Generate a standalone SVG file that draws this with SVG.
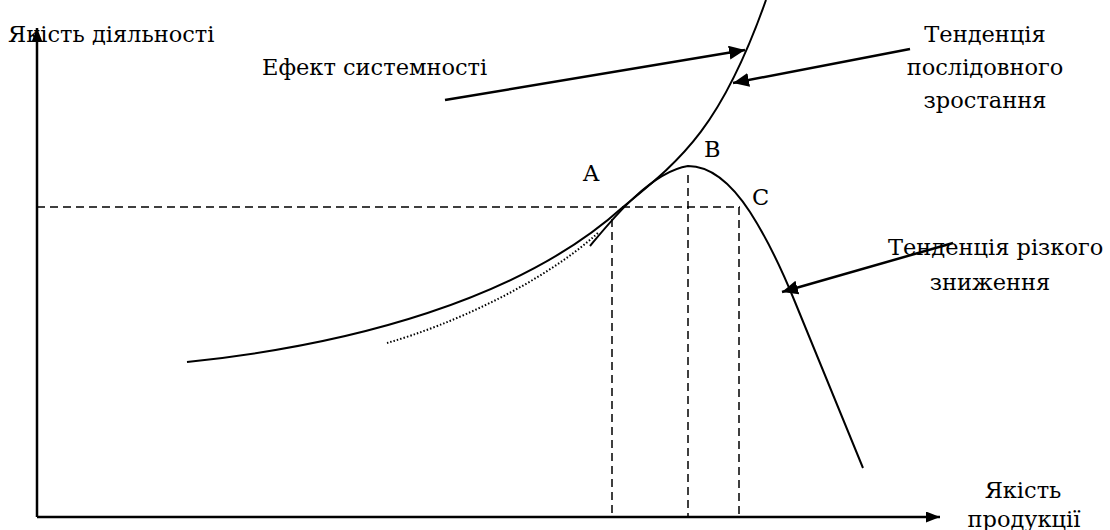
<svg xmlns="http://www.w3.org/2000/svg" width="1110" height="530" viewBox="0 0 1110 530">
<defs>
<marker id="ah" markerUnits="userSpaceOnUse" markerWidth="18" markerHeight="16" refX="16" refY="7" orient="auto">
<path d="M0,0 L16,7 L0,14 Z" fill="#000"/>
</marker>
<marker id="axh" markerUnits="userSpaceOnUse" markerWidth="16" markerHeight="12" refX="14" refY="5.5" orient="auto">
<path d="M0,0 L14,5.5 L0,11 Z" fill="#000"/>
</marker>
</defs>
<style>
text{font-family:"DejaVu Serif","Liberation Serif",serif;font-size:22.5px;fill:#000}
.c{text-anchor:middle}
.curve{fill:none;stroke:#000;stroke-width:2}
.dash{fill:none;stroke:#000;stroke-width:1.5;stroke-dasharray:8,5}
.axis{fill:none;stroke:#000;stroke-width:2.5}
.arr{fill:none;stroke:#000;stroke-width:2.5;marker-end:url(#ah)}
</style>
<rect width="1110" height="530" fill="#fff"/>
<g id="guides">
<path class="dash" d="M37,207 H740"/>
<path class="dash" d="M612,219 V517"/>
<path class="dash" d="M688,175 V517"/>
<path class="dash" d="M739,207 V517"/>
</g>
<g id="axes">
<path class="axis" d="M37,517 V28" marker-end="url(#axh)"/>
<path class="axis" d="M37,517 H940" marker-end="url(#axh)"/>
</g>
<g id="growth-curve">
<path class="curve" d="M187,362 C350,345 520,300 623,207 C680,160 720,130 766,0"/>
</g>
<g id="hump-curve">
<path class="curve" d="M590,246 C610,222 650,172 688,166 C712,166 733,186 750,212 C768,240 780,265 795,302 L863,468"/>
</g>
<g id="dotted-curve">
<path fill="none" stroke="#000" stroke-width="2" stroke-dasharray="1.5,2" d="M387,343 C450,325 540,285 598,233"/>
</g>
<g id="connectors">
<path class="arr" d="M445,100 L745,50"/>
<path class="arr" d="M910,49 L733,83"/>
<path class="arr" d="M953,243 L782,292"/>
</g>
<g id="labels">
<text x="8" y="42">Якість діяльності</text>
<text x="262" y="75">Ефект системності</text>
<text class="c" x="985" y="42">Тенденція</text>
<text class="c" x="985" y="75">послідовного</text>
<text class="c" x="985" y="108">зростання</text>
<text x="583" y="181">A</text>
<text x="704" y="157">B</text>
<text x="752" y="205">C</text>
<text x="888" y="255">Тенденція різкого</text>
<text class="c" x="990" y="290">зниження</text>
<text class="c" x="1023" y="498">Якість</text>
<text class="c" x="1024" y="527">продукції</text>
</g>
</svg>
